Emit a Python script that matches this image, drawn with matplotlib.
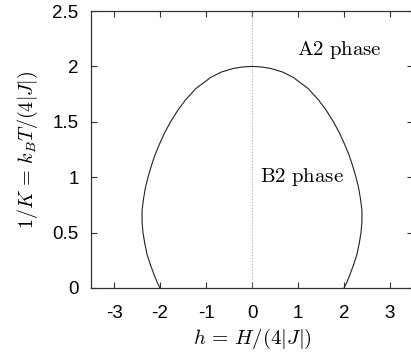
import matplotlib
matplotlib.use('Agg')
import matplotlib.pyplot as plt

plt.rcParams['font.family'] = ['Liberation Sans', 'DejaVu Sans']
plt.rcParams['mathtext.fontset'] = 'cm'

# Phase boundary (right half, then left half)
t_right = [0.0, 0.05, 0.1, 0.2, 0.3, 0.4, 0.5, 0.6, 0.7, 0.8, 0.9, 1.0,
           1.1, 1.2, 1.3, 1.4, 1.5, 1.6, 1.7, 1.8, 1.9, 1.95, 1.982, 1.995, 2.0]
h_right = [2.00, 2.06, 2.11, 2.20, 2.28, 2.33, 2.37, 2.39, 2.39, 2.36, 2.32,
           2.26, 2.19, 2.11, 2.01, 1.90, 1.77, 1.62, 1.44, 1.22, 0.90, 0.66,
           0.40, 0.20, 0.0]
t_left = [2.0, 1.995, 1.982, 1.95, 1.9, 1.8, 1.7, 1.6, 1.5, 1.4, 1.3, 1.2,
          1.1, 1.0, 0.9, 0.8, 0.7, 0.6, 0.5, 0.4, 0.3, 0.2, 0.1, 0.05, 0.0]
h_left = [0.0, -0.20, -0.40, -0.66, -0.90, -1.22, -1.44, -1.62, -1.77, -1.90,
          -2.01, -2.11, -2.19, -2.26, -2.32, -2.36, -2.39, -2.39, -2.37, -2.33,
          -2.28, -2.20, -2.11, -2.06, -2.00]

x_ticks = [-3, -2, -1, 0, 1, 2, 3]
y_ticks = [0, 0.5, 1, 1.5, 2, 2.5]
y_tick_labels = ['0', '0.5', '1', '1.5', '2', '2.5']

fig = plt.figure(figsize=(4.11, 3.56), dpi=100)
ax = fig.add_axes([91 / 411, 68 / 356, 322 / 411, 277 / 356])

# symmetry line h = 0
ax.plot([0, 0], [0, 2.5], color='#aaaaaa', lw=0.8, ls=':')
ax.plot(h_left, t_left, color='#222222', lw=0.8)
ax.plot(h_right, t_right, color='#222222', lw=0.8)

ax.text(0.97, 2.15, r'$\mathrm{A2\ phase}$', fontsize=15, va='center')
ax.text(0.17, 1.0, r'$\mathrm{B2\ phase}$', fontsize=15, va='center')

ax.set_xlim(-3.5, 3.5)
ax.set_ylim(0, 2.5)
ax.set_xticks(x_ticks)
ax.set_xticklabels([str(v) for v in x_ticks])
ax.set_yticks(y_ticks)
ax.set_yticklabels(y_tick_labels)
ax.tick_params(direction='in', length=4, width=0.8, labelsize=13.5,
               top=True, right=True, pad=9, color='#333333')
ax.tick_params(axis='x', pad=12)
for sp in ax.spines.values():
  sp.set_linewidth(0.9)
  sp.set_color('#333333')

ax.set_xlabel(r'$h\,=\,H/(4|J|)$', fontsize=15, labelpad=4)
ax.set_ylabel(r'$1/K\,=\,k_BT/(4|J|)$', fontsize=14.5, labelpad=9)

fig.savefig('out.png', dpi=100)
